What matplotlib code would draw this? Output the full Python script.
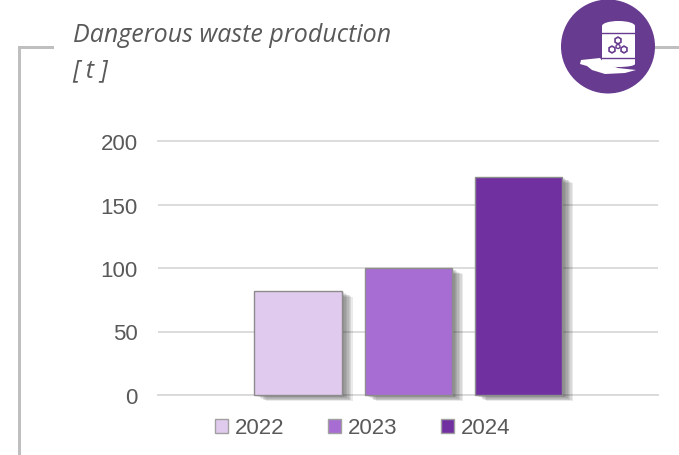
import matplotlib
matplotlib.use('Agg')
import matplotlib.pyplot as plt
import matplotlib.patheffects as pe
from matplotlib.patches import Circle, Rectangle, Ellipse, Polygon, RegularPolygon

years = ['2022', '2023', '2024']
waste = [82, 100, 172]
colors = ['#e0caee', '#a86dd3', '#7030a0']
edge = '#8c8c8c'
ticks = [0, 50, 100, 150, 200]

W, H = 679, 456
fig = plt.figure(figsize=(W / 100, H / 100), dpi=100)
ax = fig.add_axes([158 / W, 1 - 396 / H, 500 / W, 254 / H])

# soft shadow to the lower right of the bars
shadow = []
for off in [8, 7, 6, 5, 4, 3, 2, 1]:
    shadow.append(pe.SimplePatchShadow(offset=(off, -off * 0.55), shadow_rgbFace='#333333', alpha=0.1))
shadow.append(pe.Normal())

for i in range(len(years)):
    b = ax.bar(i, waste[i], width=0.79, color=colors[i], edgecolor=edge,
               linewidth=1, label=years[i], zorder=3, clip_on=False)
    b[0].set_path_effects(shadow)

ax.set_xlim(-1.27, 3.265)
ax.set_ylim(0, 200)
ax.set_yticks(ticks)
ax.set_xticks([])
ax.tick_params(axis='y', length=0, pad=14.5, labelsize=16, labelcolor='#595959')
for t in ax.get_yticklabels():
    t.set_family('Liberation Sans')
ax.grid(axis='y', color='#d9d9d9', linewidth=1.3, zorder=0)
ax.set_axisbelow(True)
for s in ['top', 'right', 'left']:
    ax.spines[s].set_visible(False)
ax.spines['bottom'].set_color('#d9d9d9')
ax.spines['bottom'].set_linewidth(1.3)
ax.yaxis.get_gridlines()[-1].set_clip_on(False)

handles, labels = ax.get_legend_handles_labels()
leg = ax.legend(handles, labels, ncol=3, frameon=False, loc='center',
                bbox_to_anchor=(362.5 / W, 1 - 429 / H), bbox_transform=fig.transFigure,
                prop={'family': 'Liberation Sans', 'size': 16}, labelcolor='#595959',
                handlelength=0.6, handleheight=0.6, handletextpad=0.28, columnspacing=1.98,
                borderpad=0)
for h in leg.legend_handles:
    h.set_path_effects([])
    h.set_edgecolor('#a0a0a0')

# overlay in pixel coordinates for frame, title and icon
ov = fig.add_axes([0, 0, 1, 1], zorder=5)
ov.set_xlim(0, W)
ov.set_ylim(H, 0)
ov.axis('off')
ov.patch.set_alpha(0)

frame = '#bfbfbf'
ov.add_patch(Rectangle((18, 47), 36, 3, color=frame, lw=0))
ov.add_patch(Rectangle((18, 47), 3, H - 47, color=frame, lw=0))
ov.add_patch(Rectangle((652, 47), W - 652, 3, color=frame, lw=0))

ov.text(73, 36, 'Dangerous waste production', family='Open Sans', style='italic',
        size=18, color='#595959', va='center', ha='left')
ov.text(72, 71, '[ t ]', family='Open Sans', style='italic',
        size=18, color='#595959', va='center', ha='left')

# barrel icon
purple = '#673b8f'
ov.add_patch(Circle((608, 47.5), 47, color=purple, lw=0))
ov.add_patch(Polygon([(581, 61), (600, 59), (604, 64), (618, 69), (636, 71), (625, 74),
                      (605, 75), (592, 71), (587, 67), (580, 65)], color='white', lw=0))
ov.add_patch(Rectangle((602, 27), 33, 38, color='white', lw=0))
ov.add_patch(Ellipse((618.5, 65), 33, 6, color='white', lw=0))
ov.add_patch(Ellipse((618.5, 27), 33, 10, color='white', lw=0))
ov.plot([602, 635], [34, 34], color=purple, lw=1.0)
ov.plot([602, 635], [59, 59], color=purple, lw=1.0)
for c in [(618, 41.5), (612, 50.5), (624, 50.5)]:
    ov.add_patch(RegularPolygon(c, 6, radius=3.4, fill=False, edgecolor=purple, lw=1.2))
ov.add_patch(Circle((618, 47.5), 2, fill=False, edgecolor=purple, lw=1))

fig.savefig('out.png', dpi=100)
